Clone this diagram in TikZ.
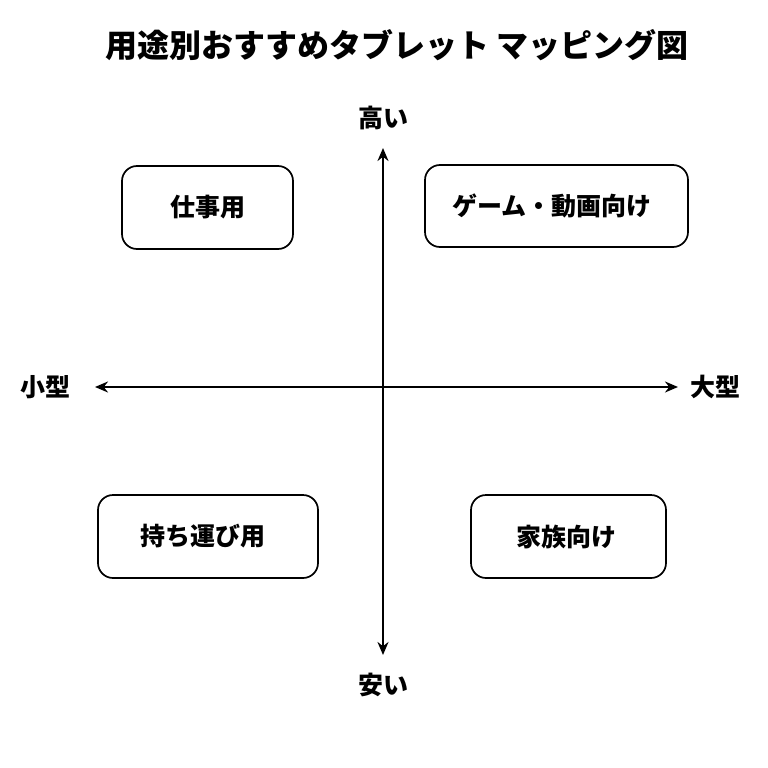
\documentclass[tikz,border=0pt]{standalone}
\usepackage{fontspec}
\newfontfamily\cjk{Noto Sans CJK JP}
\usetikzlibrary{arrows.meta}
\begin{document}
\begin{tikzpicture}[x=1pt,y=-1pt,
  box/.style={draw,line width=1.7pt,rounded corners=15pt,fill=white},
  lbl/.style={font=\cjk\bfseries\fontsize{25}{30}\selectfont},
  ax/.style={line width=2.5pt,{Stealth[length=13pt,width=11pt]}-{Stealth[length=13pt,width=11pt]}}]
\useasboundingbox[fill=white] (0,0) rectangle (768,768);
\node[font=\cjk\bfseries\fontsize{32}{38}\selectfont] (t) at (397,45) {用途別おすすめタブレット マッピング図};
\coordinate (top) at (383,148); \coordinate (bot) at (383,655);
\coordinate (lft) at (95,387); \coordinate (rgt) at (678,387);
\draw[ax] (top) -- (bot);
\draw[ax] (lft) -- (rgt);
\node[lbl] (hi) at (383,118) {高い};
\node[lbl] (lo) at (383,685) {安い};
\node[lbl] (sm) at (45,387) {小型};
\node[lbl] (lg) at (715,387) {大型};
\draw[box] (122,166) rectangle (293,249); \node[lbl] (a) at (207.5,207.5) {仕事用};
\draw[box] (425,165) rectangle (688,247); \node[lbl] (b) at (552,206) {ゲーム・動画向け};
\draw[box] (98,495) rectangle (318,578); \node[lbl] (c) at (203,536.5) {持ち運び用};
\draw[box] (471,495) rectangle (666,578); \node[lbl] (d) at (566,536.5) {家族向け};
\end{tikzpicture}
\end{document}
